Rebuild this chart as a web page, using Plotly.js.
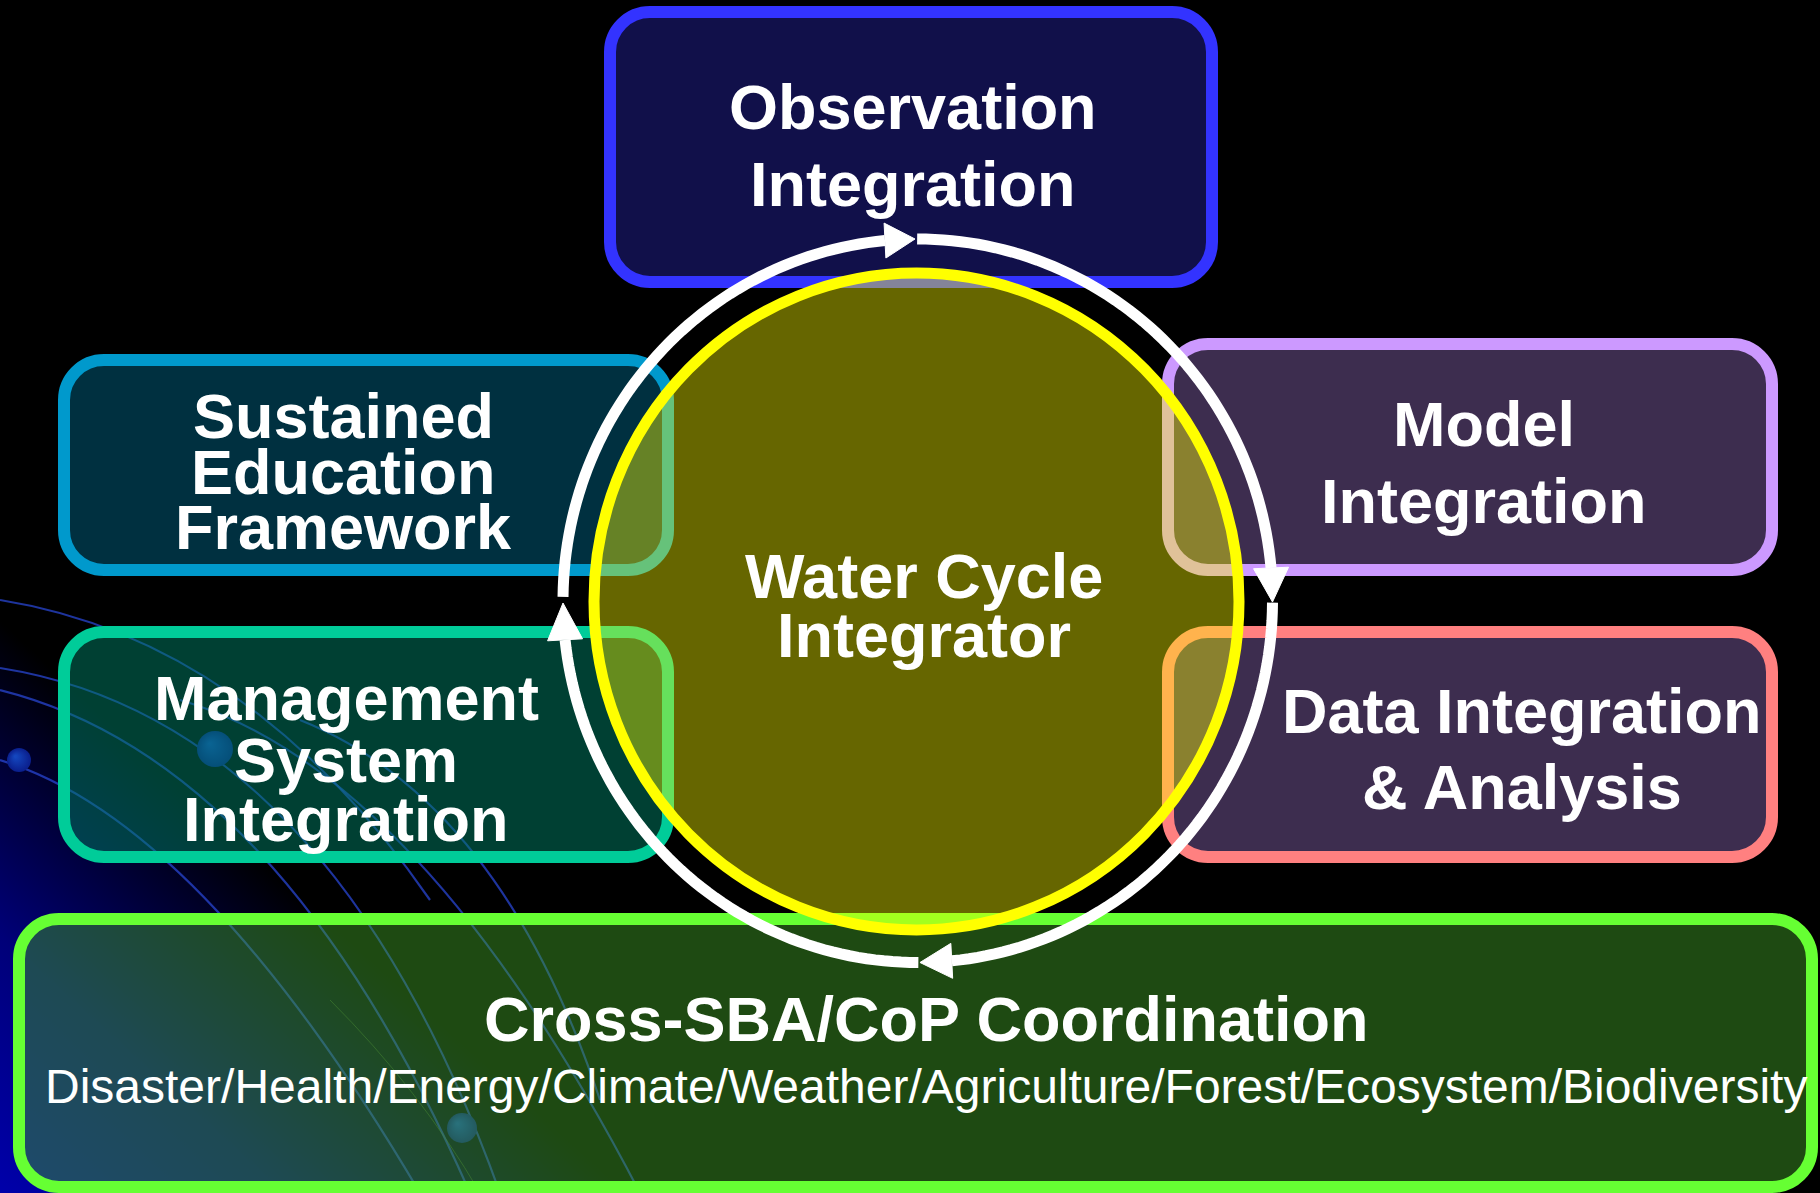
<!DOCTYPE html>
<html>
<head>
<meta charset="utf-8">
<script src="https://cdn.plot.ly/plotly-3.0.1.min.js"></script>
<style>
html,body{margin:0;padding:0;background:#000;overflow:hidden}
#chart{width:1820px;height:1193px}
</style>
</head>
<body>
<div id="chart"></div>
<script>
// ---------- content (text) ----------
const boxNames = ["Observation Integration", "Sustained Education Framework", "Model Integration",
                  "Management System Integration", "Data Integration & Analysis", "Cross-SBA/CoP Coordination"];
const boxLines = [["Observation", "Integration"],
                  ["Sustained", "Education", "Framework"],
                  ["Model", "Integration"],
                  ["Management", "System", "Integration"],
                  ["Data Integration", "& Analysis"],
                  ["Cross-SBA/CoP Coordination"]];
const centerLines = ["Water Cycle", "Integrator"];
const sbaList = ["Disaster", "Health", "Energy", "Climate", "Weather", "Agriculture", "Forest", "Ecosystem", "Biodiversity"];
// cycle order (clockwise arrows): top -> right -> bottom -> left
const cycleArrows = ["to Observation", "to Model", "to Cross-SBA", "to Management"];

// ---------- geometry / styles ----------
const W = 1820, H = 1193;
const boxGeom = [
  {x0: 610, y0: 12,  x1: 1212, y1: 282,  fill: 'rgba(34,32,148,0.5)',  line: '#3333ff', tx: 913,  base: [129, 206]},
  {x0: 64,  y0: 360, x1: 668,  y1: 570,  fill: 'rgba(0,96,128,0.5)',   line: '#0099cc', tx: 343,  base: [438, 494, 549]},
  {x0: 1168,y0: 344, x1: 1772, y1: 570,  fill: 'rgba(122,90,158,0.5)', line: '#cc99ff', tx: 1484, base: [446, 523]},
  {x0: 64,  y0: 632, x1: 668,  y1: 857,  fill: 'rgba(0,128,102,0.5)',  line: '#00cc99', tx: 346,  base: [720, 782, 841]},
  {x0: 1168,y0: 632, x1: 1772, y1: 857,  fill: 'rgba(122,90,158,0.5)', line: '#ff8080', tx: 1522, base: [733, 809]},
  {x0: 19,  y0: 919, x1: 1812, y1: 1187, fill: 'rgba(67,164,40,0.45)', line: '#66ff33', tx: 926,  base: [1041]}
];
const ring = {cx: 917.75, cy: 600.75, rx: 354.75, ry: 361.75, w: 11};
const disc = {x0: 594, x1: 1239, y0: 273, y1: 930};
// arcs (degrees, screen-clockwise) and arrowheads [base, tip]
const arcs = [[180.6, 264.7], [269.9, 354.8], [360.3, 444.5], [449.9, 533.8]];
const heads = [[264.7, 269.56], [354.8, 360.2], [444.5, 449.64], [533.8, 539.64]];
const FONT = '"Liberation Sans", Arial, Helvetica, sans-serif';
const BIG = 63, SMALL = 48;

// ---------- background (decorative) ----------
function makeBg() {
  const c = document.createElement('canvas');
  c.width = W; c.height = H;
  const g = c.getContext('2d');
  g.fillStyle = '#000'; g.fillRect(0, 0, W, H);
  const lg = g.createLinearGradient(0, 1193, 285, 880);
  lg.addColorStop(0, 'rgb(0,0,170)');
  lg.addColorStop(0.45, 'rgb(0,0,120)');
  lg.addColorStop(1, 'rgb(0,0,0)');
  g.fillStyle = lg; g.fillRect(0, 0, W, H);
  g.lineWidth = 2.2;
  g.strokeStyle = 'rgba(40,70,210,0.75)';
  const curves = [
    [0, 668, 330, 720, 500, 1193],
    [0, 690, 280, 760, 470, 1193],
    [0, 760, 200, 820, 420, 1193],
    [180, 700, 420, 770, 640, 1193],
    [300, 720, 500, 800, 600, 1100],
    [0, 600, 250, 640, 430, 900]
  ];
  curves.forEach(q => { g.beginPath(); g.moveTo(q[0], q[1]); g.quadraticCurveTo(q[2], q[3], q[4], q[5]); g.stroke(); });
  g.lineWidth = 1; g.strokeStyle = 'rgba(80,120,60,0.5)';
  g.beginPath(); g.moveTo(330, 1000); g.quadraticCurveTo(420, 1090, 480, 1193); g.stroke();
  const dots = [[19, 760, 12], [215, 749, 18], [462, 1128, 15]];
  dots.forEach(d => {
    const rg = g.createRadialGradient(d[0] - d[2] * 0.3, d[1] - d[2] * 0.3, 1, d[0], d[1], d[2]);
    rg.addColorStop(0, 'rgb(20,70,190)'); rg.addColorStop(1, 'rgb(10,30,140)');
    g.fillStyle = rg; g.beginPath(); g.arc(d[0], d[1], d[2], 0, 2 * Math.PI); g.fill();
  });
  return c.toDataURL('image/png');
}

// ---------- helpers ----------
function roundRect(b, r) {
  const k = 0.5523 * r;
  const {x0, y0, x1, y1} = b;
  return `M${x0 + r},${y0} L${x1 - r},${y0} C${x1 - r + k},${y0} ${x1},${y0 + r - k} ${x1},${y0 + r} ` +
         `L${x1},${y1 - r} C${x1},${y1 - r + k} ${x1 - r + k},${y1} ${x1 - r},${y1} ` +
         `L${x0 + r},${y1} C${x0 + r - k},${y1} ${x0},${y1 - r + k} ${x0},${y1 - r} ` +
         `L${x0},${y0 + r} C${x0},${y0 + r - k} ${x0 + r - k},${y0} ${x0 + r},${y0} Z`;
}
function ep(deg) {
  const t = deg * Math.PI / 180;
  return [ring.cx + ring.rx * Math.cos(t), ring.cy + ring.ry * Math.sin(t)];
}
function arcPath(a0, a1) {
  const n = 60; let s = '';
  for (let i = 0; i <= n; i++) {
    const p = ep(a0 + (a1 - a0) * i / n);
    s += (i ? 'L' : 'M') + p[0].toFixed(2) + ',' + p[1].toFixed(2);
  }
  return s;
}
function headPath(aBase, aTip, hw) {
  const b = ep(aBase), t = ep(aTip);
  let dx = t[0] - b[0], dy = t[1] - b[1];
  const L = Math.hypot(dx, dy); dx /= L; dy /= L;
  const px = -dy * hw, py = dx * hw;
  return `M${(b[0] + px).toFixed(2)},${(b[1] + py).toFixed(2)} L${t[0].toFixed(2)},${t[1].toFixed(2)} L${(b[0] - px).toFixed(2)},${(b[1] - py).toFixed(2)} Z`;
}
function esc(s) { return s.replace(/&/g, '&amp;'); }

// ---------- build ----------
const shapes = [];
boxGeom.forEach(b => {
  shapes.push({type: 'path', xref: 'x', yref: 'y', path: roundRect(b, 40),
               fillcolor: b.fill, line: {color: b.line, width: 12}, layer: 'above'});
});
shapes.push({type: 'circle', xref: 'x', yref: 'y', x0: disc.x0, x1: disc.x1, y0: disc.y0, y1: disc.y1,
             fillcolor: 'rgba(255,255,0,0.4)', line: {color: '#ffff00', width: 11}, layer: 'above'});
arcs.forEach(a => {
  shapes.push({type: 'path', xref: 'x', yref: 'y', path: arcPath(a[0], a[1]),
               line: {color: '#ffffff', width: ring.w}, layer: 'above'});
});
heads.forEach(h => {
  shapes.push({type: 'path', xref: 'x', yref: 'y', path: headPath(h[0], h[1], 17.5),
               fillcolor: '#ffffff', line: {color: '#ffffff', width: 1}, layer: 'above'});
});

const annotations = [];
function label(text, x, baseline, size, bold) {
  annotations.push({
    text: esc(text), x: x, y: baseline - 0.35 * size, xref: 'x', yref: 'y',
    xanchor: 'center', yanchor: 'middle', showarrow: false,
    font: {family: FONT, size: size, color: '#ffffff', weight: bold ? 'bold' : 'normal'}
  });
}
boxLines.forEach((lines, i) => {
  lines.forEach((t, j) => label(t, boxGeom[i].tx, boxGeom[i].base[j], BIG, true));
});
label(centerLines[0], 924, 598, BIG, true);
label(centerLines[1], 924, 657, BIG, true);
label(sbaList.join('/'), 926, 1103, SMALL, false);

const layout = {
  width: W, height: H,
  margin: {l: 0, r: 0, t: 0, b: 0, pad: 0},
  paper_bgcolor: '#000000', plot_bgcolor: 'rgba(0,0,0,0)',
  showlegend: false,
  xaxis: {range: [0, W], visible: false, showgrid: false, zeroline: false, fixedrange: true},
  yaxis: {range: [H, 0], visible: false, showgrid: false, zeroline: false, fixedrange: true},
  images: [{source: makeBg(), xref: 'paper', yref: 'paper', x: 0, y: 1, sizex: 1, sizey: 1,
            xanchor: 'left', yanchor: 'top', sizing: 'stretch', layer: 'below'}],
  shapes: shapes,
  annotations: annotations
};
const data = [{type: 'scatter', mode: 'markers', x: [], y: [], hoverinfo: 'skip', showlegend: false}];
Plotly.newPlot('chart', data, layout, {displayModeBar: false, staticPlot: true});
</script>
</body>
</html>
